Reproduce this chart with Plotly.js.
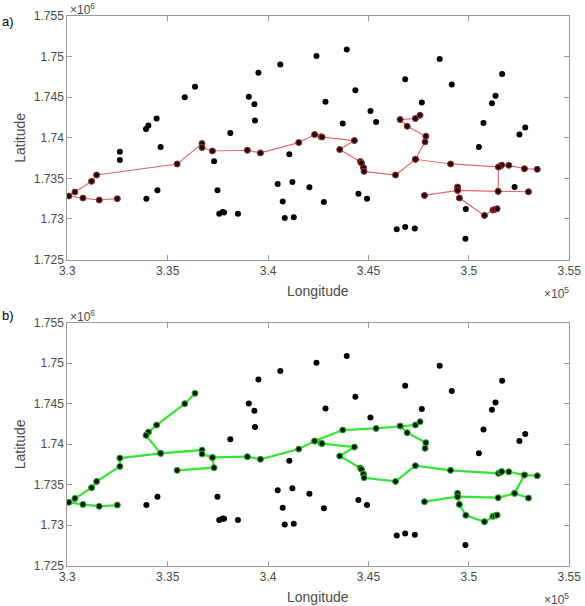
<!DOCTYPE html>
<html>
<head>
<meta charset="utf-8">
<script src="https://cdn.plot.ly/plotly-3.0.1.min.js"></script>
<style>html,body{margin:0;padding:0;background:#fff;}#chart{width:585px;height:606px;}</style>
</head>
<body>
<div id="chart"></div>
<script>
// Tick labels
const lonTickVals = [330000, 335000, 340000, 345000, 350000, 355000];
const lonTickText = ['3.3', '3.35', '3.4', '3.45', '3.5', '3.55'];
const latTickVals = [1725000, 1730000, 1735000, 1740000, 1745000, 1750000, 1755000];
const latTickText = ['1.725', '1.73', '1.735', '1.74', '1.745', '1.75', '1.755'];

// All locations (longitude, latitude)
const pointLon = [
  330080, 330380, 330780, 331210, 331460, 331590, 332490, 335470, 336710, 336710, 337230, 338970,
  339620, 341530, 342320, 342640, 342690, 344300, 343570, 344600, 344650, 344750, 344780, 346350,
  347340, 347820, 347860, 346930, 346580, 347340, 347570, 349090, 351480, 351580, 351640, 351990,
  352770, 353410, 351460, 352970, 349440, 349440, 347790, 349530, 350780, 351200, 351300, 351410,
  336360, 335850, 334450, 334040, 333920, 334650, 332620, 332620, 337310, 343720, 345380, 352280, 349850,
  333940, 334490, 337480, 337570, 337740, 337810, 338500, 338120, 339040, 339320, 339350, 339520,
  340610, 341060, 340480, 340730, 341210, 340830, 341280, 342060, 342410, 343920, 342860, 344350,
  345100, 346830, 348550, 349150, 347660, 351660, 351330, 351150, 350730, 350500, 352520, 352810,
  342780, 344500, 344930, 346410, 346830, 347310, 349830
];
const pointLat = [
  1732820, 1733310, 1732570, 1734630, 1735410, 1732330, 1732490, 1736770, 1739280, 1738790, 1738370, 1738460,
  1738130, 1739400, 1740390, 1740120, 1740080, 1739650, 1738540, 1737060, 1736890, 1736320, 1735860, 1735410,
  1737350, 1739490, 1740190, 1741420, 1742240, 1742370, 1742780, 1736770, 1736400, 1736520, 1736630, 1736600,
  1736190, 1736110, 1733400, 1733350, 1733930, 1733520, 1732900, 1732570, 1730430, 1731090, 1731170, 1731250,
  1746280, 1745000, 1742370, 1741500, 1741090, 1738870, 1738290, 1737260, 1737100, 1741750, 1741950, 1733930, 1731220,
  1732490, 1733520, 1733520, 1730640, 1730840, 1730800, 1730640, 1740600, 1745040, 1744140, 1742120, 1748000,
  1749030, 1737960, 1734300, 1732160, 1734550, 1730100, 1730190, 1733890, 1750060, 1750880, 1744420, 1745860,
  1743310, 1747220, 1749690, 1746560, 1744340, 1747840, 1745160, 1744260, 1741830, 1738870, 1740390, 1741260,
  1732080, 1733110, 1732490, 1728740, 1728990, 1728830, 1727550
];

// Route a) (red), segments separated by null
const redLon = [
  332490, 331590, 330780, 330080, 330380, 331210, 331460, 335470, 336710, 336710, 337230, 338970, 339620, 341530,
  342320, 342640, 342690, 344300, 343570, 344600, 344650, 344750, 344780, 346350, 347340, 349090, 351480, 351580,
  351640, 351990, 352770, 353410, null,
  347340, 347820, 347860, 346930, 346580, 347340, 347570, null,
  351480, 351460, 352970, null,
  347790, 349440, 351460, null,
  349440, 349440, 349530, 350780, 351200, 351300, 351410
];
const redLat = [
  1732490, 1732330, 1732570, 1732820, 1733310, 1734630, 1735410, 1736770, 1739280, 1738790, 1738370, 1738460, 1738130, 1739400,
  1740390, 1740120, 1740080, 1739650, 1738540, 1737060, 1736890, 1736320, 1735860, 1735410, 1737350, 1736770, 1736400, 1736520,
  1736630, 1736600, 1736190, 1736110, null,
  1737350, 1739490, 1740190, 1741420, 1742240, 1742370, 1742780, null,
  1736400, 1733400, 1733350, null,
  1732900, 1733520, 1733400, null,
  1733930, 1733520, 1732570, 1730430, 1731090, 1731170, 1731250
];

// Route b) (green), segments separated by null
const greenLon = [
  336360, 335850, 334450, 334040, 333920, 334650, 336710, 336710, 337230, 337310, 335470, null,
  334650, 332620, 332620, 331460, 331210, 330380, 330080, 330780, 331590, 332490, null,
  337230, 338970, 339620, 341530, 342320, 342640, 342690, 344300, 343570, 344600, 344650, 344750, 344780, 346350,
  347340, 349090, 351480, 351580, 351640, 351990, 352770, 353410, null,
  342320, 343720, 345380, 346580, 347340, 347570, null,
  346580, 346930, 347860, 347820, null,
  352770, 352280, 352970, null,
  352280, 351460, 349440, 347790, null,
  349440, 349440, 349530, 349850, 350780, 351200, 351300, 351410
];
const greenLat = [
  1746280, 1745000, 1742370, 1741500, 1741090, 1738870, 1739280, 1738790, 1738370, 1737100, 1736770, null,
  1738870, 1738290, 1737260, 1735410, 1734630, 1733310, 1732820, 1732570, 1732330, 1732490, null,
  1738370, 1738460, 1738130, 1739400, 1740390, 1740120, 1740080, 1739650, 1738540, 1737060, 1736890, 1736320, 1735860, 1735410,
  1737350, 1736770, 1736400, 1736520, 1736630, 1736600, 1736190, 1736110, null,
  1740390, 1741750, 1741950, 1742240, 1742370, 1742780, null,
  1742240, 1741420, 1740190, 1739490, null,
  1736190, 1733930, 1733350, null,
  1733930, 1733400, 1733520, 1732900, null,
  1733930, 1733520, 1732570, 1731220, 1730430, 1731090, 1731170, 1731250
];

function nodes(xs, ys) {
  const nx = [], ny = [];
  xs.forEach((v, i) => { if (v !== null) { nx.push(v); ny.push(ys[i]); } });
  return [nx, ny];
}

const FONT = 'Liberation Sans, Arial, Helvetica, sans-serif';
const LABEL = '#4a4a4a';
const AXC = '#9a9a9a';

function subplotTraces(lx, ly, lineColor, lineWidth, ringColor, xa, ya) {
  const [nx, ny] = nodes(lx, ly);
  return [
    {x: lx, y: ly, xaxis: xa, yaxis: ya, type: 'scatter', mode: 'lines', connectgaps: false,
     line: {color: lineColor, width: lineWidth}, hoverinfo: 'skip', showlegend: false},
    {x: pointLon, y: pointLat, xaxis: xa, yaxis: ya, type: 'scatter', mode: 'markers',
     marker: {color: '#000', size: 6}, showlegend: false},
    {x: nx, y: ny, xaxis: xa, yaxis: ya, type: 'scatter', mode: 'markers',
     marker: {color: '#111', size: 6, line: {color: ringColor, width: 1}}, showlegend: false}
  ];
}

const data = [].concat(
  subplotTraces(redLon, redLat, '#e46a6a', 1.2, '#b03030', 'x', 'y'),
  subplotTraces(greenLon, greenLat, '#33e633', 2.2, '#2cc02c', 'x2', 'y2')
);

function xAxis(dom, anchor) {
  return {domain: dom, anchor: anchor, range: [330000, 355000], tickvals: lonTickVals, ticktext: lonTickText,
    ticks: 'inside', ticklen: 5, tickcolor: AXC, showline: true, linecolor: AXC, linewidth: 1, mirror: 'ticks',
    showgrid: false, zeroline: false, tickfont: {family: FONT, size: 12, color: LABEL}, fixedrange: true};
}
function yAxis(dom, anchor) {
  return {domain: dom, anchor: anchor, range: [1725000, 1755000], tickvals: latTickVals, ticktext: latTickText,
    ticks: 'inside', ticklen: 5, tickcolor: AXC, showline: true, linecolor: AXC, linewidth: 1, mirror: 'ticks',
    showgrid: false, zeroline: false, tickfont: {family: FONT, size: 12, color: LABEL}, fixedrange: true};
}

const W = 585, H = 606;
const px = v => v / W, py = v => 1 - v / H;
const xDom = [px(67.3), px(569.2)];

function ann(text, x, y, opts) {
  return Object.assign({text: text, x: x, y: y, xref: 'paper', yref: 'paper', showarrow: false,
    font: {family: FONT, size: 14, color: LABEL}, xanchor: 'center', yanchor: 'middle'}, opts || {});
}

const layout = {
  width: W, height: H,
  margin: {l: 0, r: 0, t: 0, b: 0},
  paper_bgcolor: '#fff', plot_bgcolor: '#fff',
  showlegend: false,
  xaxis: xAxis(xDom, 'y'),
  yaxis: yAxis([py(259.5), py(16)], 'x'),
  xaxis2: xAxis(xDom, 'y2'),
  yaxis2: yAxis([py(565.7), py(322.7)], 'x2'),
  annotations: [
    ann('a)', px(8), py(22), {font: {family: FONT, size: 13, color: '#000'}}),
    ann('b)', px(8), py(315), {font: {family: FONT, size: 13, color: '#000'}}),
    ann('Latitude', px(20), py(137.7), {textangle: -90}),
    ann('Latitude', px(20), py(444.2), {textangle: -90}),
    ann('Longitude', px(318), py(291)),
    ann('Longitude', px(318), py(597)),
    ann('×10<sup>6</sup>', px(68), py(9), {xanchor: 'left', font: {family: FONT, size: 12, color: LABEL}}),
    ann('×10<sup>6</sup>', px(68), py(315.5), {xanchor: 'left', font: {family: FONT, size: 12, color: LABEL}}),
    ann('×10<sup>5</sup>', px(571), py(293), {xanchor: 'right', font: {family: FONT, size: 12, color: LABEL}}),
    ann('×10<sup>5</sup>', px(571), py(599), {xanchor: 'right', font: {family: FONT, size: 12, color: LABEL}})
  ]
};

Plotly.newPlot('chart', data, layout, {displayModeBar: false, staticPlot: true});
</script>
</body>
</html>
